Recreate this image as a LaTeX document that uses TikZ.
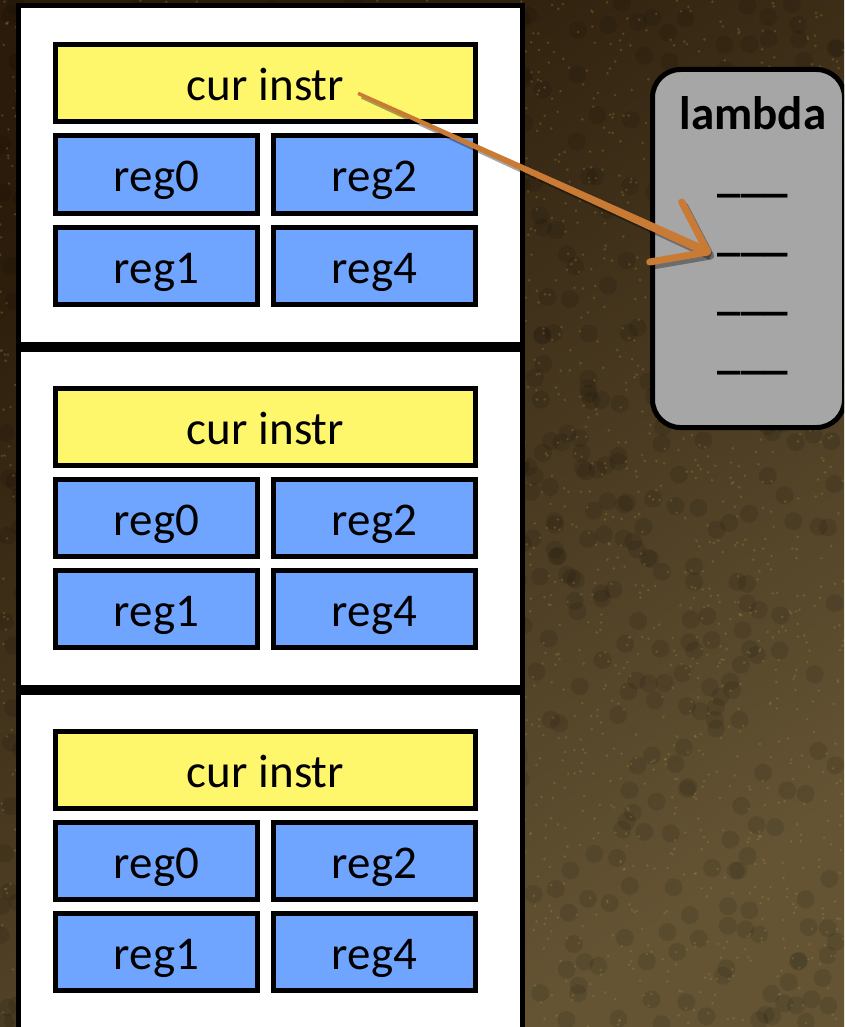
\documentclass[tikz,border=0pt]{standalone}
\usepackage{fontspec}
\setmainfont{Carlito}
\usepackage{tikz}
\usetikzlibrary{arrows.meta,positioning,calc}
\definecolor{instrYellow}{RGB}{255,247,107}
\definecolor{regBlue}{RGB}{112,165,255}
\definecolor{lambdaGray}{RGB}{166,166,166}
\definecolor{brushOrange}{RGB}{201,122,52}
\definecolor{bgDark}{RGB}{42,27,10}
\definecolor{bgLight}{RGB}{100,84,52}
\definecolor{bgSpeck}{RGB}{165,150,75}
\tikzset{%
  cell/.style={draw,line width=5pt,minimum height=77pt,text height=35pt,text depth=0pt,inner sep=0pt},
  stackframe/.style={draw,fill=white,line width=5pt,minimum width=504pt,minimum height=338pt,inner sep=0pt}%
}

\begin{document}
\begin{tikzpicture}[
    x=1pt, y=-1pt,
    font=\fontsize{47}{56}\selectfont,
    instrbox/.style={
        cell,
        fill=instrYellow,
        minimum width=420pt
    },
    regbox/.style={
        cell,
        fill=regBlue,
        minimum width=202pt
    },
    slot/.style={
        inner sep=0pt,
        anchor=base
    },
    brush/.style={fill=brushOrange, draw=brushOrange, line width=1pt, line join=round},
    brushtip/.style={draw=brushOrange, line width=7pt, line cap=round, line join=round},
    brushshade/.style={black, opacity=.35, transform canvas={shift={(3pt,-4pt)}}}
]

% Background
\useasboundingbox (0,0) rectangle (844,1027);
\clip (0,0) rectangle (844,1027);
\shade[top color=bgDark, bottom color=bgLight, shading angle=35] (0,0) rectangle (844,1027);
\pgfmathsetseed{11}
\foreach \k in {1,...,900}{
  \fill[black, opacity=.1] (rnd*844, rnd*1027) circle[radius=9];
}
\foreach \k in {1,...,3000}{
  \fill[bgSpeck, opacity=.28] (rnd*844, rnd*1027) circle[radius=1.4];
}

% Stack frames
\node[stackframe] (frametop) at (270.5,175) {};
\node[stackframe, below=0pt of frametop] (framemid) {};
\node[stackframe, below=0pt of framemid] (framebot) {};

% Top frame
\node[instrbox, below=39pt of frametop.north, xshift=-5pt] (instrtop) {cur instr};
\node[regbox, below right=9pt and 0pt of instrtop.south west] (reg0top) {reg0};
\node[regbox, right=11pt of reg0top] (reg2top) {reg2};
\node[regbox, below=9pt of reg0top] (reg1top) {reg1};
\node[regbox, below=9pt of reg2top] (reg4top) {reg4};

% Middle frame
\node[instrbox, below=39pt of framemid.north, xshift=-5pt] (instrmid) {cur instr};
\node[regbox, below right=9pt and 0pt of instrmid.south west] (reg0mid) {reg0};
\node[regbox, right=11pt of reg0mid] (reg2mid) {reg2};
\node[regbox, below=9pt of reg0mid] (reg1mid) {reg1};
\node[regbox, below=9pt of reg2mid] (reg4mid) {reg4};

% Bottom frame
\node[instrbox, below=39pt of framebot.north, xshift=-5pt] (instrbot) {cur instr};
\node[regbox, below right=9pt and 0pt of instrbot.south west] (reg0bot) {reg0};
\node[regbox, right=11pt of reg0bot] (reg2bot) {reg2};
\node[regbox, below=9pt of reg0bot] (reg1bot) {reg1};
\node[regbox, below=9pt of reg2bot] (reg4bot) {reg4};

% Lambda table
\node[draw, line width=5pt, fill=lambdaGray, rounded corners=28pt,
      minimum width=192pt, minimum height=358pt] (lambda) at (748.5,248.5) {};
\node[slot] (lambdalbl) at (753,130) {\bfseries lambda};
\node[slot] (slot1) at (753,192) {\bfseries\_\_\_};
\node[slot] (slot2) at (753,250) {\bfseries\_\_\_};
\node[slot] (slot3) at (753,309) {\bfseries\_\_\_};
\node[slot] (slot4) at (753,368) {\bfseries\_\_\_};

% Arrow
\coordinate (tail) at ($(instrtop.center)+(93,10)$);
\coordinate (tip) at ($(slot2.base west)+(-10,2)$);
\fill[brushshade] ($(tail)!1.2pt!90:(tip)$) -- ($(tip)!4pt!-90:(tail)$)
    -- ($(tip)!4pt!90:(tail)$) -- ($(tail)!1.2pt!-90:(tip)$) -- cycle;
\draw[brushshade, line width=7pt, line cap=round, line join=round]
    ($(tip)+(-26,-50)$) -- (tip) -- ($(tip)+(-58,10)$);
\fill[brush] ($(tail)!1.2pt!90:(tip)$) -- ($(tip)!4pt!-90:(tail)$)
    -- ($(tip)!4pt!90:(tail)$) -- ($(tail)!1.2pt!-90:(tip)$) -- cycle;
\draw[brushtip] ($(tip)+(-26,-50)$) -- (tip) -- ($(tip)+(-58,10)$);

\end{tikzpicture}
\end{document}
